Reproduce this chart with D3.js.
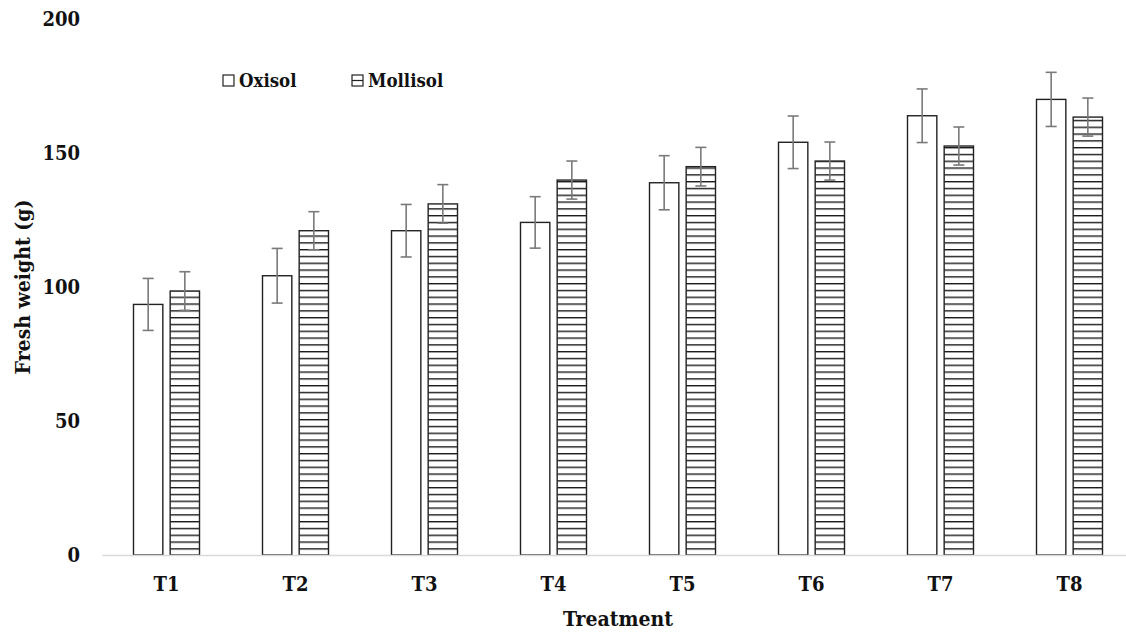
<!DOCTYPE html>
<html>
<head>
<meta charset="utf-8">
<script src="https://cdn.jsdelivr.net/npm/d3@7"></script>
<style>
  body { margin: 0; background: #fff; }
  svg { display: block; }
  text { font-family: "DejaVu Serif Condensed", "DejaVu Serif", serif; font-weight: bold; fill: #111; }
</style>
</head>
<body>
<svg width="1126" height="632"></svg>
<script>
var treatments = ["T1", "T2", "T3", "T4", "T5", "T6", "T7", "T8"];
var series = ["Oxisol", "Mollisol"];
var oxisol = [93.5, 104.2, 121, 124.1, 138.9, 154, 163.9, 170];
var mollisol = [98.5, 121, 131, 139.9, 144.9, 147, 152.6, 163.4];
var oxisolErr = [9.7, 10.2, 9.8, 9.6, 10.1, 9.8, 10, 10.1];
var mollisolErr = [7.2, 7.1, 7.2, 7.1, 7.2, 7.1, 7.1, 7.1];
var yTicks = [0, 50, 100, 150, 200];

var svg = d3.select("svg"),
    plotLeft = 102,
    plotRight = 1134,
    plotTop = 19,
    plotBottom = 555;

var x = d3.scaleBand()
    .domain(treatments)
    .range([plotLeft, plotRight]);

var inner = d3.scaleBand()
    .domain(series)
    .range([-33, 33])
    .paddingInner(0.2);

var y = d3.scaleLinear()
    .domain([0, 200])
    .range([plotBottom, plotTop]);

var defs = svg.append("defs");
var hatch = defs.append("pattern")
    .attr("id", "hatch")
    .attr("patternUnits", "userSpaceOnUse")
    .attr("width", 8)
    .attr("height", 6.8)
    .attr("y", plotBottom);
hatch.append("rect").attr("width", 8).attr("height", 6.8).attr("fill", "#fff");
hatch.append("line")
    .attr("x1", 0).attr("x2", 8)
    .attr("y1", 0.7).attr("y2", 0.7)
    .attr("stroke", "#1a1a1a")
    .attr("stroke-width", 1.4);

// y tick labels, no axis line
svg.append("g").selectAll("text")
  .data(yTicks)
  .enter().append("text")
    .attr("x", 80)
    .attr("y", function(d) { return y(d); })
    .attr("dy", "0.35em")
    .attr("text-anchor", "end")
    .style("font-size", "20px")
    .text(function(d) { return d; });

var rows = treatments.map(function(t, i) {
  return {
    t: t,
    vals: [
      { s: "Oxisol", v: oxisol[i], e: oxisolErr[i] },
      { s: "Mollisol", v: mollisol[i], e: mollisolErr[i] }
    ]
  };
});

var groups = svg.append("g").selectAll("g")
  .data(rows)
  .enter().append("g")
    .attr("transform", function(d) { return "translate(" + (x(d.t) + x.bandwidth() / 2) + ",0)"; });

groups.selectAll("rect")
  .data(function(d) { return d.vals; })
  .enter().append("rect")
    .attr("x", function(d) { return inner(d.s); })
    .attr("width", inner.bandwidth())
    .attr("y", function(d) { return y(d.v); })
    .attr("height", function(d) { return y(0) - y(d.v); })
    .attr("fill", function(d) { return d.s === "Oxisol" ? "#fff" : "url(#hatch)"; })
    .attr("stroke", "#222")
    .attr("stroke-width", 1.4);

var err = groups.selectAll("g.err")
  .data(function(d) { return d.vals; })
  .enter().append("g")
    .attr("class", "err")
    .attr("stroke", "#7a7a7a")
    .attr("stroke-width", 1.6);

err.append("line")
    .attr("x1", function(d) { return inner(d.s) + inner.bandwidth() / 2; })
    .attr("x2", function(d) { return inner(d.s) + inner.bandwidth() / 2; })
    .attr("y1", function(d) { return y(d.v + d.e); })
    .attr("y2", function(d) { return y(d.v - d.e); });

[1, -1].forEach(function(sign) {
  err.append("line")
      .attr("x1", function(d) { return inner(d.s) + inner.bandwidth() / 2 - 5.5; })
      .attr("x2", function(d) { return inner(d.s) + inner.bandwidth() / 2 + 5.5; })
      .attr("y1", function(d) { return y(d.v + sign * d.e); })
      .attr("y2", function(d) { return y(d.v + sign * d.e); });
});

// x axis
var xAxis = svg.append("g")
    .attr("transform", "translate(0," + plotBottom + ")")
    .call(d3.axisBottom(x).tickSize(0).tickPadding(22));
xAxis.select(".domain").attr("stroke", "#d9d9d9").attr("stroke-width", 1.5);
xAxis.selectAll("text")
    .attr("fill", "#111")
    .style("font-family", "\"DejaVu Serif Condensed\", \"DejaVu Serif\", serif")
    .style("font-weight", "bold")
    .style("font-size", "20px");

svg.append("text")
    .attr("x", (plotLeft + plotRight) / 2)
    .attr("y", 626)
    .attr("text-anchor", "middle")
    .style("font-size", "21px")
    .text("Treatment");

svg.append("text")
    .attr("transform", "translate(30," + ((plotTop + plotBottom) / 2) + ") rotate(-90)")
    .attr("text-anchor", "middle")
    .style("font-size", "21px")
    .text("Fresh weight (g)");

// legend
var legend = svg.append("g").selectAll("g")
  .data(series)
  .enter().append("g")
    .attr("transform", function(d, i) { return "translate(" + (i ? 352 : 223) + ",75)"; });

legend.append("rect")
    .attr("width", 11)
    .attr("height", 11)
    .attr("fill", "#fff")
    .attr("stroke", "#222")
    .attr("stroke-width", 1.2);

legend.filter(function(d) { return d === "Mollisol"; })
  .append("line")
    .attr("x1", 0).attr("x2", 11)
    .attr("y1", 5.5).attr("y2", 5.5)
    .attr("stroke", "#222")
    .attr("stroke-width", 1.2);

legend.append("text")
    .attr("x", 16)
    .attr("y", 6)
    .attr("dy", "0.35em")
    .style("font-size", "18.5px")
    .text(function(d) { return d; });
</script>
</body>
</html>
